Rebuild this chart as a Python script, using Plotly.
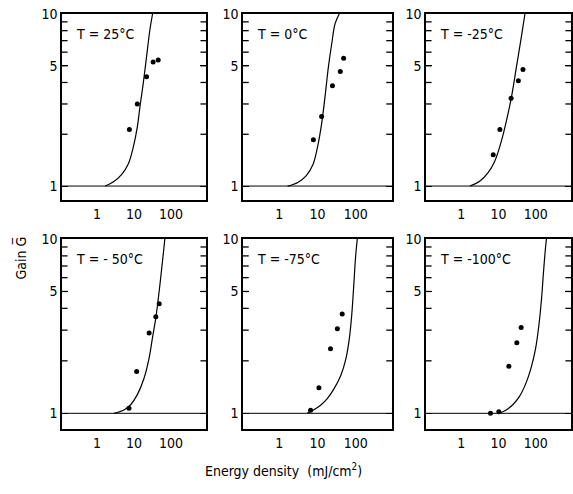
import plotly.graph_objects as go
from plotly.subplots import make_subplots

# ---- data ----
panel_labels = ["T = 25°C", "T = 0°C", "T = -25°C", "T = - 50°C", "T = -75°C", "T = -100°C"]

energy_25 = [7.5, 12.3, 21.9, 33.0, 45.2]
gain_25 = [2.13, 3.0, 4.32, 5.26, 5.4]
energy_0 = [7.8, 12.8, 24.6, 39.5, 48.3]
gain_0 = [1.86, 2.54, 3.83, 4.63, 5.53]
energy_m25 = [7.2, 10.9, 21.8, 34.2, 45.5]
gain_m25 = [1.52, 2.13, 3.24, 4.09, 4.76]
energy_m50 = [7.3, 11.8, 25.7, 39.0, 48.1]
gain_m50 = [1.07, 1.74, 2.89, 3.58, 4.25]
energy_m75 = [6.6, 10.9, 21.9, 33.1, 44.3]
gain_m75 = [1.04, 1.40, 2.35, 3.06, 3.71]
energy_m100 = [6.1, 10.2, 19.0, 31.1, 40.7]
gain_m100 = [1.0, 1.02, 1.86, 2.54, 3.11]

curve_e_25 = [1.66, 2.78, 4.66, 7.04, 9.6, 12.3, 14.5, 17.8, 21.9, 26.9, 31.8]
curve_g_25 = [1.0, 1.06, 1.17, 1.35, 1.69, 2.21, 2.89, 3.95, 5.65, 8.07, 10.0]
curve_e_0 = [1.65, 3.05, 5.09, 7.66, 10.4, 12.8, 15.7, 19.3, 23.6, 29.0, 37.1]
curve_g_0 = [1.0, 1.05, 1.15, 1.34, 1.76, 2.30, 3.29, 4.93, 6.74, 8.82, 10.0]
curve_e_m25 = [1.72, 3.18, 5.3, 7.98, 12.0, 16.3, 22.2, 30.2, 41.0, 51.4]
curve_g_m25 = [1.0, 1.07, 1.2, 1.40, 1.83, 2.39, 3.27, 4.89, 7.31, 10.0]
curve_e_m50 = [2.85, 5.34, 8.11, 12.3, 18.7, 25.7, 31.6, 39.0, 48.1, 59.3, 68.5]
curve_g_m50 = [1.0, 1.045, 1.12, 1.28, 1.59, 2.08, 2.71, 3.53, 5.03, 7.5, 10.0]
curve_e_m75 = [5.38, 7.8, 11.8, 17.8, 26.9, 40.7, 55.5, 68.2, 78.8, 89.3, 99.0, 110.0]
curve_g_m75 = [1.0, 1.045, 1.11, 1.21, 1.38, 1.65, 2.06, 2.69, 3.68, 5.49, 7.83, 10.0]
curve_e_m100 = [10.6, 16.1, 24.3, 36.7, 55.5, 75.6, 99.0, 122.0, 144.0, 163.0, 184.0, 195.0]
curve_g_m100 = [1.0, 1.046, 1.12, 1.25, 1.50, 1.83, 2.34, 3.2, 4.57, 6.54, 8.94, 10.0]

points_e = [energy_25, energy_0, energy_m25, energy_m50, energy_m75, energy_m100]
points_g = [gain_25, gain_0, gain_m25, gain_m50, gain_m75, gain_m100]
curves_e = [curve_e_25, curve_e_0, curve_e_m25, curve_e_m50, curve_e_m75, curve_e_m100]
curves_g = [curve_g_25, curve_g_0, curve_g_m25, curve_g_m50, curve_g_m75, curve_g_m100]

x_tickvals = [1, 10, 100]
x_ticktext = ["1", "10", "100"]
y_label_vals = [1, 5, 10]
y_label_text = ["1", "5", "10"]
y_tick_marks = [2, 3, 4, 5, 6, 7, 8, 9]
BASELINE = 1

W, H = 573, 494
FONT = "DejaVu Sans Condensed, Liberation Sans Narrow, DejaVu Sans, sans-serif"
col_px = [(62, 206), (243, 392), (426, 571)]
row_px = [(14, 200), (239, 429)]
X_RANGE_LOG = [-0.95, 2.95]
TICK_LEN_DECADES = 0.15  # inside tick length expressed along the log x axis

fig = make_subplots(rows=2, cols=3)

for i in range(6):
    r, c = divmod(i, 3)
    n = i + 1
    xa = "xaxis" if n == 1 else f"xaxis{n}"
    ya = "yaxis" if n == 1 else f"yaxis{n}"
    # inside tick marks on both frame sides, built from the axis range and tick values
    lo, hi = X_RANGE_LOG
    tx, ty = [], []
    for yv in y_tick_marks:
        tx += [10 ** lo, 10 ** (lo + TICK_LEN_DECADES), None,
               10 ** (hi - TICK_LEN_DECADES), 10 ** hi, None]
        ty += [yv, yv, None, yv, yv, None]
    fig.add_trace(go.Scatter(x=tx, y=ty, mode="lines", line=dict(color="black", width=1.3),
                             showlegend=False, hoverinfo="skip", connectgaps=False),
                  row=r + 1, col=c + 1)
    fig.add_trace(go.Scatter(x=curves_e[i], y=curves_g[i], mode="lines",
                             line=dict(color="black", width=1.2, shape="spline"),
                             showlegend=False, hoverinfo="skip"), row=r + 1, col=c + 1)
    fig.add_trace(go.Scatter(x=points_e[i], y=points_g[i], mode="markers",
                             marker=dict(color="black", size=5),
                             showlegend=False), row=r + 1, col=c + 1)
    x0, x1 = col_px[c]
    y0, y1 = row_px[r]
    fig.layout[xa].update(domain=[x0 / W, x1 / W], type="log", range=X_RANGE_LOG,
                          tickmode="array", tickvals=x_tickvals, ticktext=x_ticktext,
                          ticks="", showgrid=False, zeroline=False, showline=True,
                          linecolor="black", linewidth=1.5, mirror=True, automargin=False,
                          tickfont=dict(family=FONT, size=14, color="black"))
    yrange = [-0.081, 1] if r == 0 else [-0.09, 1]
    fig.layout[ya].update(domain=[1 - y1 / H, 1 - y0 / H], type="log", range=yrange,
                          tickmode="array", tickvals=y_label_vals, ticktext=y_label_text,
                          ticks="inside", ticklen=6, tickwidth=1.4, tickcolor="black",
                          showgrid=False, zeroline=False, showline=True,
                          linecolor="black", linewidth=1.5, mirror="ticks", automargin=False,
                          tickfont=dict(family=FONT, size=14, color="black"))
    xref = "x" if n == 1 else f"x{n}"
    yref = "y" if n == 1 else f"y{n}"
    fig.add_shape(type="line", xref=f"{xref} domain", yref=yref, x0=0, x1=1,
                  y0=BASELINE, y1=BASELINE, line=dict(color="black", width=1))
    fig.add_annotation(xref=f"{xref} domain", yref=f"{yref} domain", x=0.08, y=0.895,
                       text=panel_labels[i], showarrow=False, xanchor="left", yanchor="middle",
                       font=dict(family=FONT, size=14, color="black"))

fig.add_annotation(xref="paper", yref="paper", x=10 / W, y=1 - 258 / H,
                   text="Gain G\u0305", textangle=-90, showarrow=False,
                   font=dict(family=FONT, size=14, color="black"))
fig.add_annotation(xref="paper", yref="paper", x=283 / W, y=1 - 481 / H,
                   text="Energy density  (mJ/cm<sup>2</sup>)", showarrow=False,
                   font=dict(family=FONT, size=14, color="black"))

fig.update_layout(width=W, height=H, margin=dict(l=0, r=0, t=0, b=0, autoexpand=False),
                  plot_bgcolor="white", paper_bgcolor="white")

fig.write_html("out.html", config={"displayModeBar": False},
               post_script="document.body.style.margin='0px';document.body.style.padding='0px';")
